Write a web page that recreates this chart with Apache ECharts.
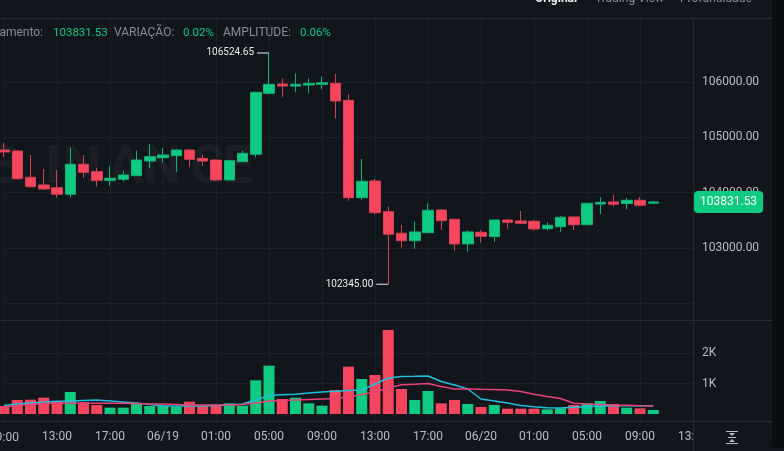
<!DOCTYPE html>
<html><head><meta charset="utf-8">
<script src="https://cdn.jsdelivr.net/npm/echarts@6/dist/echarts.min.js"></script>
<style>html,body{margin:0;padding:0;background:#11151c;}#c{width:784px;height:451px;}</style>
</head><body><div id="c"></div>
<script>
// ---- data ----
const tickLabels = ['09:00','13:00','17:00','06/19','01:00','05:00','09:00','13:00','17:00','06/20','01:00','05:00','09:00','13:00'];
const opens  = [104770,104753,104278,104139,104090,103971,104513,104379,104224,104242,104307,104572,104632,104668,104771,104621,104590,104229,104560,104694,105796,105964,105928,105946,105958,105977,105669,103909,104211,103656,103266,103132,103277,103687,103519,103073,103284,103205,103506,103488,103483,103349,103385,103561,103421,103795,103832,103803,103862,103810.8];
const closes = [104735,104253,104108,104067,103971,104513,104368,104224,104260,104319,104590,104650,104681,104771,104603,104572,104229,104578,104712,105814,105958,105928,105958,105977,105987,105657,103909,104206,103638,103248,103132,103290,103682,103494,103073,103290,103212,103506,103465,103447,103344,103411,103555,103421,103808,103826,103790,103862,103772,103831.53];
const lows   = [104645,104229,104090,104048,103909,103909,104271,104108,104126,104198,104300,104440,104549,104374,104469,104488,104211,104220,104554,104639,105778,105734,105814,105796,105868,105344,103855,103868,103609,102345,103006,102982,103271,103326,102952,102934,103096,103114,103349,103434,103313,103313,103295,103326,103416,103615,103747,103700,103759,103790];
const highs  = [104898,104771,104681,104428,104410,104813,104681,104451,104482,104392,104759,104880,104802,104780,104789,104681,104600,104590,104759,105828,106524.65,106067,106157,106067,106096,106145,105783,104609,104247,103747,103416,103476,103808,103705,103524,103320,103326,103515,103524,103669,103506,103465,103579,103570,103813,103917,103958,103904,103922,103850];
const volumes = [262,459,470,535,415,721,383,295,207,207,350,262,262,240,404,262,262,350,273,1104,1585,492,535,350,273,787,1552,1148,1279,2754,820,459,754,350,459,328,230,295,174,174,174,153,186,295,350,426,328,207,186,131];
const ma5  = [279,328,361,393,416,426,443,459,426,393,361,311,272,262,262,262,279,295,328,459,607,633,649,689,721,744,770,787,984,1180,1230,1236,1246,1066,951,820,492,426,361,279,236,203,197,220,239,262,269,269,269,269];
const ma10 = [230,279,311,344,351,351,351,351,351,351,344,328,328,311,295,295,295,295,311,361,426,443,459,475,492,508,557,639,721,852,961,977,1000,902,820,820,810,803,787,738,646,574,508,351,328,311,295,285,272,262];

const categories = [];
for (let i = 0; i < 53; i++) {
  categories.push(i % 4 === 0 ? tickLabels[i / 4] : String((9 + i) % 24).padStart(2, '0') + ':00');
}

const UP = '#0ecb81', DOWN = '#f6465d', BG = '#11151c', GRID = '#1c2028', SEP = '#262a31', TXT = '#b7bdc6', GRAY = '#848e9c';
const FONT = 'Roboto';

const candleData = opens.map((o, i) => [o, closes[i], lows[i], highs[i]]);
const volData = volumes.map((v, i) => ({ value: v, itemStyle: { color: closes[i] >= opens[i] ? UP : DOWN } }));
const hiIdx = highs.indexOf(Math.max(...highs));
const loIdx = lows.indexOf(Math.min(...lows));
const last = closes[closes.length - 1];

const chart = echarts.init(document.getElementById('c'), null, { renderer: 'canvas' });

function txt(x, y, text, fill, font, align, z) {
  return { type: 'text', x, y, z: z || 5, silent: true,
    style: { text, fill, font, align: align || 'left', textAlign: align || 'left', verticalAlign: 'middle', textVerticalAlign: 'middle' } };
}
function line(x1, y1, x2, y2, color, z) {
  return { type: 'line', z: z || 5, silent: true, shape: { x1, y1, x2, y2 }, style: { stroke: color, lineWidth: 1 } };
}

// watermark letters (spaced)
const wmLetters = 'BINANCE'.split('');
const wmX = [4, 53, 82, 126, 162, 208, 238];
const watermark = wmLetters.map((ch, i) => ({
  type: 'text', x: wmX[i], y: 169, z: 1, silent: true,
  style: { text: ch, fill: 'rgba(255,255,255,0.045)', font: 'bold 54px Roboto', align: 'center', textAlign: 'center', verticalAlign: 'middle', textVerticalAlign: 'middle' }
}));

chart.setOption({
  backgroundColor: BG,
  animation: false,
  grid: [
    { left: 4, right: 91, top: 26.7, bottom: 147.7 },
    { left: 4, right: 91, top: 322.5, bottom: 37 },
    { left: 4, right: 91, top: 18, bottom: 30 }
  ],
  xAxis: [
    { type: 'category', gridIndex: 0, data: categories, boundaryGap: false, show: false },
    { type: 'category', gridIndex: 1, data: categories, boundaryGap: false, show: false },
    { type: 'category', gridIndex: 2, data: categories, boundaryGap: false,
      axisLine: { show: false }, axisTick: { show: false },
      axisLabel: { interval: 3, color: TXT, fontSize: 12, fontFamily: FONT, margin: 10,
        formatter: (v, i) => i === 0 ? '' : v },
      splitLine: { show: true, interval: 3, lineStyle: { color: GRID, width: 1 } } }
  ],
  yAxis: [
    { type: 'value', gridIndex: 0, position: 'right', min: 102000, max: 107000, interval: 1000,
      axisLine: { show: false }, axisTick: { show: false },
      axisLabel: { margin: 9, color: TXT, fontSize: 12, fontFamily: FONT,
        formatter: v => (v === 102000 || v === 107000) ? '' : v.toFixed(2) },
      splitLine: { show: true, showMaxLine: false, lineStyle: { color: GRID } } },
    { type: 'value', gridIndex: 1, position: 'right', min: 0, max: 3000, interval: 1000,
      axisLine: { show: false }, axisTick: { show: false },
      axisLabel: { margin: 9, color: TXT, fontSize: 12, fontFamily: FONT,
        formatter: v => v === 1000 ? '1K' : v === 2000 ? '2K' : '' },
      splitLine: { show: true, showMinLine: false, showMaxLine: false, lineStyle: { color: GRID } } },
    { type: 'value', gridIndex: 2, show: false }
  ],
  series: [
    { type: 'candlestick', xAxisIndex: 0, yAxisIndex: 0, data: candleData, barWidth: 11, clip: false,
      itemStyle: { color: UP, color0: DOWN, borderColor: '#10b374', borderColor0: '#d9404f', borderWidth: 1 },
      markPoint: {
        symbol: 'rect', symbolSize: [12, 1], symbolOffset: [-6, 0], silent: true,
        itemStyle: { color: '#eaecef' },
        label: { show: true, position: 'left', distance: 3, color: '#eaecef', fontSize: 10, fontFamily: FONT,
          formatter: p => Number(p.value).toFixed(2) },
        data: [
          { coord: [hiIdx, highs[hiIdx]], value: highs[hiIdx] },
          { coord: [loIdx, lows[loIdx]], value: lows[loIdx] }
        ]
      },
      markLine: {
        silent: true, symbol: 'none',
        lineStyle: { color: 'rgba(0,0,0,0)', width: 0 },
        label: { show: true, position: 'end', distance: 1, formatter: last.toFixed(2),
          color: '#ffffff', backgroundColor: UP, borderRadius: 4, padding: [5, 6, 5, 6], fontSize: 12, fontFamily: FONT },
        data: [{ yAxis: last }]
      }
    },
    { type: 'bar', xAxisIndex: 1, yAxisIndex: 1, data: volData, barWidth: 11, clip: false },
    { type: 'line', xAxisIndex: 1, yAxisIndex: 1, data: ma5, symbol: 'none', showSymbol: false,
      lineStyle: { color: '#1cc0e0', width: 1.5 }, z: 3 },
    { type: 'line', xAxisIndex: 1, yAxisIndex: 1, data: ma10, symbol: 'none', showSymbol: false,
      lineStyle: { color: '#e8427a', width: 1.5 }, z: 3 }
  ],
  graphic: watermark.concat([
    txt(4, 437.5, tickLabels[0], TXT, '12px Roboto', 'center'),
    txt(535, -1.5, 'Original', '#eaecef', 'bold 12px Roboto'),
    txt(595, -1.5, 'Trading View', GRAY, '12px Roboto'),
    txt(680, -1.5, 'Profundidade', GRAY, '12px Roboto'),
    txt(43, 33, 'Fechamento:', GRAY, '12px Roboto', 'right'),
    txt(53, 33, '103831.53', UP, '11.5px Roboto'),
    txt(114, 33, 'VARIAÇÃO:', GRAY, '12px Roboto'),
    txt(183, 33, '0.02%', UP, '11.5px Roboto'),
    txt(223, 33, 'AMPLITUDE:', GRAY, '12px Roboto'),
    txt(300, 33, '0.06%', UP, '11.5px Roboto'),
    line(0, 18.5, 772, 18.5, SEP),
    line(0, 320.5, 772, 320.5, SEP),
    line(0, 421.5, 772, 421.5, SEP),
    { type: 'rect', z: 6, silent: true, shape: { x: 693.5, y: 422, width: 79, height: 29 }, style: { fill: BG } },
    line(693.5, 18, 693.5, 451, SEP, 7),
    // scale icon
    line(726, 431.5, 738, 431.5, TXT, 8),
    line(726, 443.5, 738, 443.5, TXT, 8),
    line(728, 437.5, 736, 437.5, TXT, 8),
    { type: 'polygon', z: 8, silent: true, shape: { points: [[729, 433], [735, 433], [732, 436]] }, style: { fill: TXT } },
    { type: 'polygon', z: 8, silent: true, shape: { points: [[729, 442], [735, 442], [732, 439]] }, style: { fill: TXT } },
    { type: 'rect', z: 9, silent: true, shape: { x: 772, y: 0, width: 12, height: 448, r: [0, 0, 0, 5] }, style: { fill: '#0a0d11' } }
  ])
});
</script></body></html>
